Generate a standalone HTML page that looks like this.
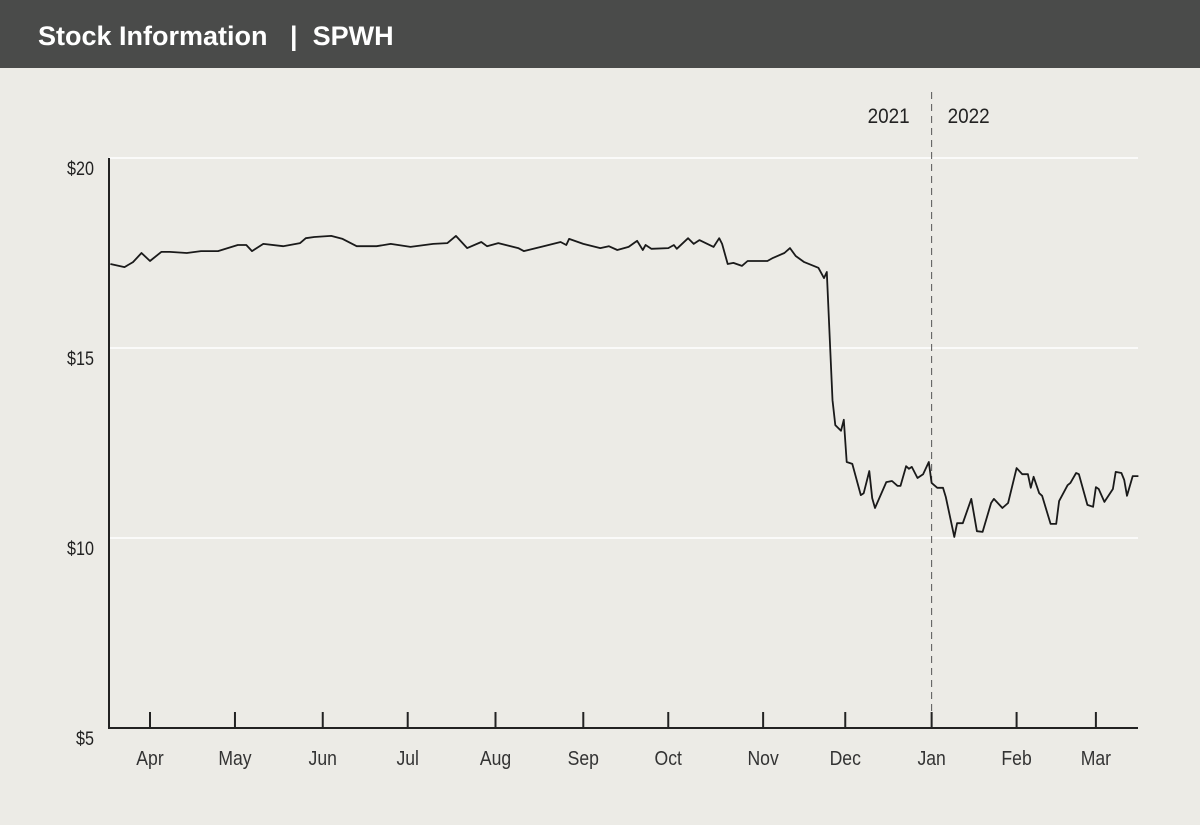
<!DOCTYPE html>
<html><head><meta charset="utf-8"><style>
body{margin:0;width:1200px;height:825px;background:#ecebe6;overflow:hidden;font-family:"Liberation Sans Narrow","Liberation Sans",sans-serif}
#hdr{position:absolute;left:0;top:0;width:1200px;height:68px;background:#4a4b4a;color:#fff;font-family:"Liberation Sans",sans-serif;font-weight:bold;font-size:27px;line-height:72px;padding-left:38px;box-sizing:border-box;white-space:pre}
svg{position:absolute;left:0;top:0}
</style></head><body>
<div id="hdr">Stock Information   |  SPWH</div>
<svg id="c" width="1200" height="825"></svg>
<script>
const days=[-14,-9,-6,-3,0,4,7,13,18,24,31,34,36,40,47,53,55,58,64,68,73,80,85,92,100,105,108,112,117,119,123,130,132,139,145,147,148,153,159,162,165,169,172,174,175,177,183,185,186,190,192,194,199,201,202,204,206,209,211,218,220,224,226,228,231,236,238,239,241,242,244,245,246,248,251,252,254,255,256,260,262,264,265,267,268,269,271,273,275,276,278,280,281,284,285,287,290,292,294,297,298,301,303,306,308,310,311,312,314,315,318,320,321,324,325,327,328,331,333,334,335,337,340,341,343,344,345,347,349];
const prices=[17.21,17.13,17.26,17.50,17.29,17.53,17.53,17.50,17.55,17.55,17.71,17.71,17.55,17.74,17.68,17.76,17.89,17.92,17.95,17.87,17.68,17.68,17.74,17.66,17.74,17.76,17.95,17.63,17.79,17.68,17.76,17.63,17.55,17.68,17.79,17.71,17.87,17.74,17.63,17.68,17.58,17.66,17.82,17.58,17.71,17.61,17.63,17.71,17.61,17.89,17.74,17.84,17.66,17.89,17.74,17.21,17.24,17.16,17.29,17.29,17.37,17.50,17.63,17.42,17.26,17.11,16.84,17.00,13.63,12.97,12.82,13.11,12.00,11.95,11.13,11.18,11.76,11.05,10.79,11.47,11.50,11.37,11.37,11.89,11.82,11.87,11.58,11.68,12.00,11.45,11.32,11.32,11.08,10.03,10.39,10.39,11.03,10.18,10.16,10.92,11.03,10.79,10.92,11.84,11.68,11.68,11.32,11.61,11.18,11.11,10.37,10.37,10.97,11.39,11.45,11.71,11.68,10.87,10.82,11.34,11.29,10.95,11.29,11.74,11.71,11.53,11.11,11.63,11.63];
const monthLabels=["Apr","May","Jun","Jul","Aug","Sep","Oct","Nov","Dec","Jan","Feb","Mar"];
const monthDays=[0,30,61,91,122,153,183,216.5,245.5,276,306,334];
const yTicks=[5,10,15,20];
const yearSplitDay=276;
const NS="http://www.w3.org/2000/svg";
const svg=document.getElementById('c');
const X=d=>150+d*2.832;
const Y=p=>728-(p-5)*38;
function mk(t,a){const e=document.createElementNS(NS,t);for(const k in a)e.setAttribute(k,a[k]);svg.appendChild(e);return e;}
yTicks.forEach(v=>{
  if(v>5){const g=mk('line',{x1:109,x2:1138,y1:Y(v),y2:Y(v),stroke:'#fff','stroke-width':1.6});
  
  }
  const t=mk('text',{x:94,y:Y(v)+17,'text-anchor':'end','font-size':19,fill:'#222',transform:'translate(94,0) scale(0.85,1) translate(-94,0)'});
  t.textContent='$'+v;
  
  
});
const dx=X(yearSplitDay);
const dl=mk('line',{x1:dx,x2:dx,y1:92,y2:728,stroke:'#555','stroke-width':1,'stroke-dasharray':'7,5'});


const y1=mk('text',{x:dx-22,y:123,'text-anchor':'end','font-size':21,fill:'#222',transform:`translate(${dx-22},0) scale(0.9,1) translate(${-(dx-22)},0)`});y1.textContent='2021';


const y2=mk('text',{x:dx+16,y:123,'font-size':21,fill:'#222',transform:`translate(${dx+16},0) scale(0.9,1) translate(${-(dx+16)},0)`});y2.textContent='2022';


const ax=mk('path',{d:'M109,158 V728 H1138',fill:'none',stroke:'#222','stroke-width':2});


monthLabels.forEach((m,i)=>{
  const x=X(monthDays[i]);
  const tk=mk('line',{x1:x,x2:x,y1:712,y2:728,stroke:'#222','stroke-width':2});
  
  
  const t=mk('text',{x:x,y:765,'text-anchor':'middle','font-size':20,fill:'#333',transform:`translate(${x},0) scale(0.88,1) translate(${-x},0)`});
  t.textContent=m;
  
  
});
const d=days.map((v,i)=>(i?'L':'M')+X(v).toFixed(1)+','+Y(prices[i]).toFixed(1)).join(' ');
const ln=mk('path',{d:d,fill:'none',stroke:'#1a1a1a','stroke-width':1.8,'stroke-linejoin':'round'});


</script>
</body></html>
